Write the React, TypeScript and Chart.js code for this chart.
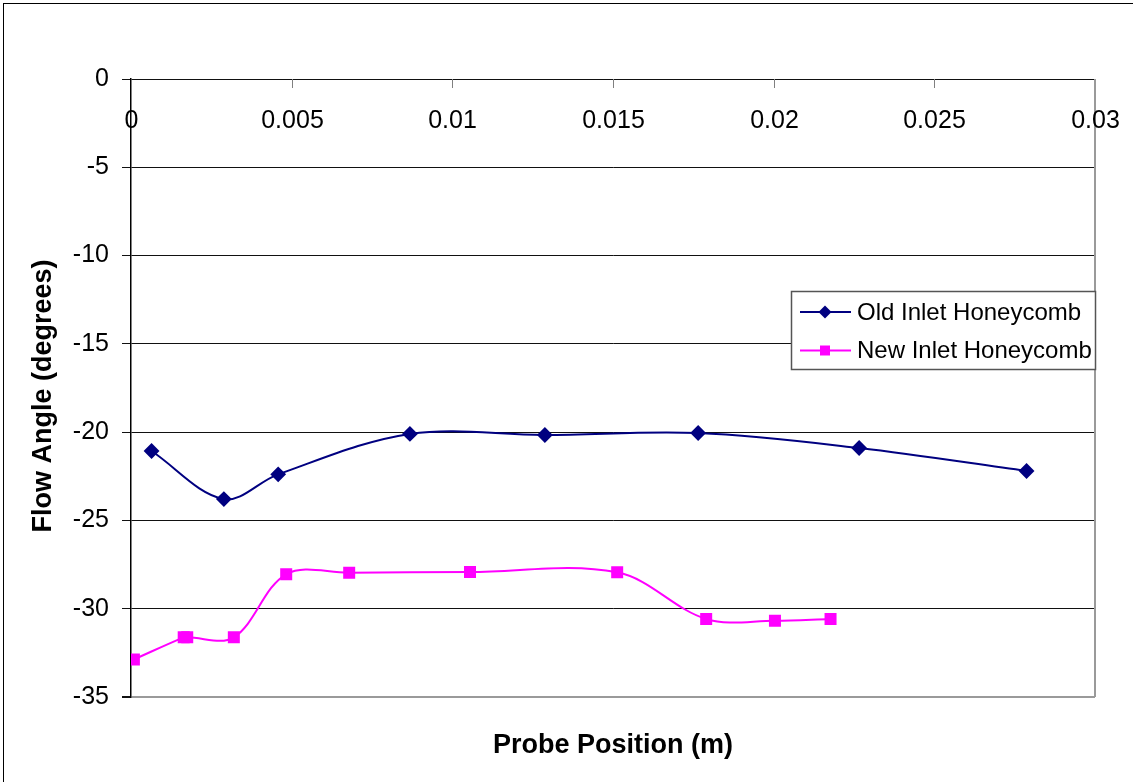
import React, { useEffect, useRef } from "react";
import { Chart, registerables } from "chart.js";

Chart.register(...registerables);

// ---- Data ----
const oldX = [0.00064, 0.00289, 0.00458, 0.00868, 0.01288, 0.01765, 0.02266, 0.02787];
const oldY = [-21.07, -23.79, -22.39, -20.1, -20.16, -20.05, -20.9, -22.2];

const newX = [0.00009, 0.00164, 0.00175, 0.0032, 0.00483, 0.00679, 0.01055, 0.01513, 0.0179, 0.02004, 0.02177];
const newY = [-32.87, -31.62, -31.62, -31.62, -28.05, -27.96, -27.92, -27.94, -30.58, -30.68, -30.58];

const xTickValues = [0, 0.005, 0.01, 0.015, 0.02, 0.025, 0.03];
const xTickLabels = ["0", "0.005", "0.01", "0.015", "0.02", "0.025", "0.03"];
const yTickValues = [0, -5, -10, -15, -20, -25, -30, -35];

const seriesNames = ["Old Inlet Honeycomb", "New Inlet Honeycomb"];
const seriesColors = ["#000080", "#FF00FF"];
const xTitle = "Probe Position (m)";
const yTitle = "Flow Angle (degrees)";

const FONT = "'Liberation Sans', Arial, Helvetica, sans-serif";

function drawMarker(ctx: CanvasRenderingContext2D, style: string, x: number, y: number, color: string) {
  ctx.fillStyle = color;
  ctx.beginPath();
  if (style === "rectRot") {
    const r = 6.5;
    ctx.moveTo(x, y - r);
    ctx.lineTo(x + r, y);
    ctx.lineTo(x, y + r);
    ctx.lineTo(x - r, y);
    ctx.closePath();
  } else {
    const s = 5;
    ctx.rect(x - s, y - s, 2 * s, 2 * s);
  }
  ctx.fill();
}

export default function App() {
  const ref = useRef<HTMLCanvasElement>(null);

  useEffect(() => {
    const canvas = ref.current;
    if (!canvas) return;
    document.body.style.margin = "0";

    const overlay = {
      id: "overlay",
      beforeDatasetsDraw(chart: any) {
        const { ctx, chartArea: a } = chart;
        const xs = chart.scales.x;
        ctx.save();
        // plot area gray border (right side)
        ctx.strokeStyle = "#9a9a9a";
        ctx.lineWidth = 2;
        ctx.beginPath();
        ctx.moveTo(a.right, a.top);
        ctx.lineTo(a.right, a.bottom);
        ctx.stroke();
        // x tick marks (inside, pointing down) and labels below top axis
        ctx.strokeStyle = "#808080";
        ctx.lineWidth = 1;
        ctx.fillStyle = "#000";
        ctx.font = `25px ${FONT}`;
        ctx.textAlign = "center";
        ctx.textBaseline = "middle";
        xTickValues.forEach((v, i) => {
          const px = Math.round(xs.getPixelForValue(v)) + 0.5;
          if (i > 0 && i < xTickValues.length - 1) {
            ctx.beginPath();
            ctx.moveTo(px, a.top);
            ctx.lineTo(px, a.top + 9);
            ctx.stroke();
          }
          ctx.fillText(xTickLabels[i], px, a.top + 42);
        });
        ctx.restore();
      },
      afterDraw(chart: any) {
        const { ctx, chartArea: a } = chart;
        ctx.save();
        // axis titles
        ctx.fillStyle = "#000";
        ctx.font = `bold 27px ${FONT}`;
        ctx.textAlign = "center";
        ctx.textBaseline = "middle";
        ctx.fillText(xTitle, (a.left + a.right) / 2, 746);
        ctx.translate(44, 396);
        ctx.rotate(-Math.PI / 2);
        ctx.fillText(yTitle, 0, 0);
        ctx.restore();

        // legend
        ctx.save();
        const lx = 791, ly = 291, lw = 304, lh = 78;
        ctx.fillStyle = "#fff";
        ctx.fillRect(lx, ly, lw, lh);
        ctx.strokeStyle = "#555";
        ctx.lineWidth = 1.5;
        ctx.strokeRect(lx + 0.5, ly + 0.5, lw, lh);
        const rows = [312, 350.5];
        chart.data.datasets.forEach((ds: any, i: number) => {
          const y = rows[i];
          ctx.strokeStyle = ds.borderColor;
          ctx.lineWidth = 2;
          ctx.beginPath();
          ctx.moveTo(800, y);
          ctx.lineTo(851, y);
          ctx.stroke();
          drawMarker(ctx, ds.pointStyle, 825, y, ds.backgroundColor);
          ctx.fillStyle = "#000";
          ctx.font = `24px ${FONT}`;
          ctx.textAlign = "left";
          ctx.textBaseline = "middle";
          ctx.fillText(ds.label, 857, y + 1);
        });
        ctx.restore();
      },
    };

    const chart = new Chart(canvas, {
      type: "scatter",
      data: {
        datasets: [
          {
            label: seriesNames[0],
            data: oldX.map((x, i) => ({ x, y: oldY[i] })),
            showLine: true,
            borderColor: seriesColors[0],
            backgroundColor: seriesColors[0],
            borderWidth: 2,
            pointStyle: "rectRot",
            pointRadius: 6.5,
            pointHoverRadius: 6.5,
            tension: 0.35,
          },
          {
            label: seriesNames[1],
            data: newX.map((x, i) => ({ x, y: newY[i] })),
            showLine: true,
            borderColor: seriesColors[1],
            backgroundColor: seriesColors[1],
            borderWidth: 2,
            pointStyle: "rect",
            pointRadius: 7.07,
            pointHoverRadius: 7.07,
            tension: 0.35,
          },
        ],
      },
      options: {
        responsive: false,
        animation: false,
        devicePixelRatio: 1,
        layout: { padding: { left: 0, top: 79, right: 38, bottom: 85 } },
        plugins: {
          legend: { display: false },
          tooltip: { enabled: false },
          title: { display: false },
        },
        scales: {
          x: {
            type: "linear",
            min: 0,
            max: 0.03,
            display: false,
          },
          y: {
            type: "linear",
            min: -35,
            max: 0,
            afterBuildTicks: (s: any) => {
              s.ticks = yTickValues.map((v) => ({ value: v }));
            },
            afterFit: (s: any) => {
              s.width = 131;
            },
            ticks: {
              color: "#000",
              padding: 13,
              font: { family: FONT, size: 25 },
              callback: (v: any) => String(v),
            },
            grid: {
              color: (c: any) => (c.tick && c.tick.value === -35 ? "#9a9a9a" : "#111"),
              lineWidth: (c: any) => (c.tick && c.tick.value === -35 ? 2 : 1),
              tickLength: 9,
              tickColor: "#111",
            },
            border: { color: "#000", width: 1.5 },
          },
        },
      },
      plugins: [overlay],
    });

    return () => chart.destroy();
  }, []);

  return (
    <div style={{ position: "fixed", left: 0, top: 0, width: 1133, height: 782, overflow: "hidden", background: "#fff" }}>
      <div
        style={{
          position: "absolute",
          left: 3,
          top: 3,
          width: 1150,
          height: 800,
          border: "1px solid #000",
          boxSizing: "border-box",
        }}
      />
      <canvas ref={ref} width={1133} height={782} style={{ position: "absolute", left: 0, top: 0, width: 1133, height: 782 }} />
    </div>
  );
}
